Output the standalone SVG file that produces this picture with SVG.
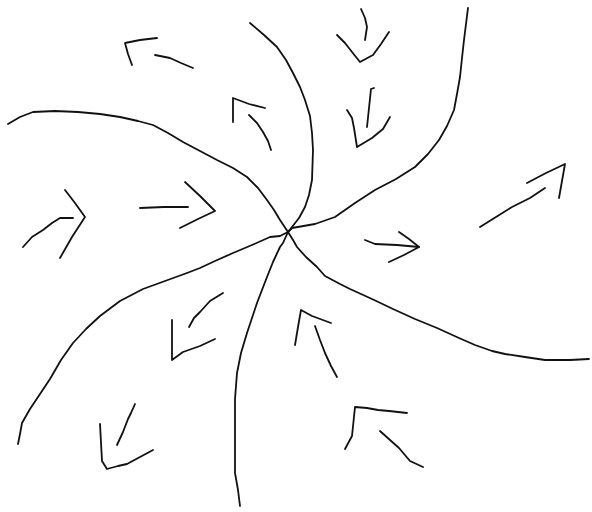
<svg xmlns="http://www.w3.org/2000/svg" width="592" height="512" viewBox="0 0 592 512">
<style>
  .s { fill: none; stroke: #111; stroke-width: 1.8; stroke-linecap: round; stroke-linejoin: round; }
</style>
<rect width="592" height="512" fill="#fff"/>
<g id="trajectories">
  <polyline id="curve-a" class="s" points="8,124 20,117 33,112 55,111 78,112 100,114 120,117 138,121 153,125 168,133 183,142 200,151 217,160 233,168 247,177 258,188 267,200 274,210 280,220 288,232"/>
  <polyline id="curve-b" class="s" points="250,23 264,35 277,47 286,60 293,73 300,87 305,100 310,116 312,133 313,150 312,180 309,195 305,207 299,218 292,227 288,232"/>
  <polyline id="curve-c" class="s" points="468,8 466,24 464,40 462,58 460,77 457,94 454,110 447,126 439,140 428,154 415,167 396,179 375,190 355,203 335,217 315,224 292,228 288,232"/>
  <polyline id="curve-d" class="s" points="288,232 293,240 297,247 306,257 317,267 325,276 340,284 350,289 372,299 393,309 415,319 437,328 459,338 475,345 492,351 505,354 525,357 545,360 570,360 589,359"/>
  <polyline id="curve-e" class="s" points="288,232 283,243 280,247 273,262 267,277 257,303 247,333 241,353 237,373 235,399 235,440 235,473 238,490 240,506"/>
  <polyline id="curve-f" class="s" points="288,232 280,236 270,237 252,245 233,253 215,261 200,268 187,273 165,281 143,289 120,301 100,316 86,329 73,343 61,360 50,379 40,394 30,409 22,423 20,434 18,444"/>
</g>
<g id="arrows">
  <g id="arrow-1"><polyline class="s" points="132,65 128,54 125,43 140,40 157,38"/><polyline class="s" points="155,55 170,58 181,63 193,68"/></g>
  <g id="arrow-2"><polyline class="s" points="233,122 233,98 249,104 265,108"/><polyline class="s" points="249,115 257,123 263,132 268,141 271,150"/></g>
  <g id="arrow-3"><polyline class="s" points="65,190 75,203 85,217 72,237 60,258"/><polyline class="s" points="23,247 32,237 43,230 52,223 60,218 73,218"/></g>
  <g id="arrow-4"><polyline class="s" points="140,208 164,207 188,207"/><polyline class="s" points="185,182 200,196 215,211 198,219 180,228"/></g>
  <g id="arrow-5"><polyline class="s" points="361,9 365,18 367,27 365,40"/><polyline class="s" points="337,35 345,43 352,52 360,62 373,55 381,44 389,32"/></g>
  <g id="arrow-6"><polyline class="s" points="374,88 371,89 369,108 367,127"/><polyline class="s" points="347,110 352,118 354,128 357,147 372,138 383,129 390,117"/></g>
  <g id="arrow-7"><polyline class="s" points="480,227 496,217 512,207 530,198 545,188"/><polyline class="s" points="527,183 546,173 565,164 562,181 559,198"/></g>
  <g id="arrow-8"><polyline class="s" points="365,240 375,244 397,245 419,247"/><polyline class="s" points="399,232 409,239 419,247 404,255 389,262"/></g>
  <g id="arrow-9"><polyline class="s" points="189,327 194,318 200,312 210,301 223,293"/><polyline class="s" points="172,320 172,360 183,352 200,346 215,339"/></g>
  <g id="arrow-10"><polyline class="s" points="295,345 298,327 301,310 312,316 331,323"/><polyline class="s" points="315,326 320,340 325,353 331,366 337,377"/></g>
  <g id="arrow-11"><polyline class="s" points="100,424 102,461 107,469 118,466 127,464 140,457 153,450"/><polyline class="s" points="135,404 131,413 128,419 123,432 117,445"/></g>
  <g id="arrow-12"><polyline class="s" points="345,449 352,436 355,407 367,408 378,410 389,411 407,413"/><polyline class="s" points="380,431 390,440 399,448 410,461 423,467"/></g>
</g>
</svg>
